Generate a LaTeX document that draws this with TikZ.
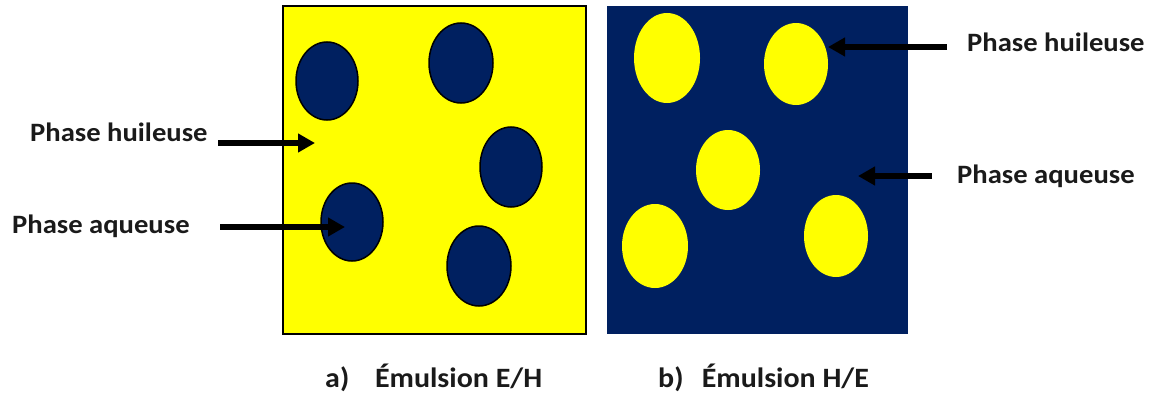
\documentclass[tikz,border=0pt]{standalone}
\usepackage{fontspec}
\setmainfont{Carlito}
\usetikzlibrary{arrows.meta}
\definecolor{navy}{HTML}{002060}
\definecolor{yel}{HTML}{FFFF00}
\definecolor{ink}{HTML}{1A1A1A}
\begin{document}
\begin{tikzpicture}[x=1pt,y=-1pt,
  lbl/.style={font=\fontsize{26.5}{30}\selectfont\bfseries, text=ink, inner sep=0pt, anchor=base west},
  captxt/.style={font=\fontsize{28}{32}\selectfont\bfseries, text=ink, inner sep=0pt, anchor=base west},
  ptr/.style={line width=6pt, draw=black, -{Triangle[length=17pt,width=18pt]}},
  dropA/.style={fill=navy, draw=black, line width=1.5pt},
  dropB/.style={fill=yel}]
\useasboundingbox (0,0) rectangle (1156,396);

% boxes
\path[fill=yel, draw=black, line width=2pt] (283,6) rectangle (586,334);
\path[fill=navy] (607,6) rectangle (908,334);

% left drops (water in oil)
\path[dropA] (327,81) ellipse [x radius=31, y radius=39];
\path[dropA] (461,63) ellipse [x radius=32, y radius=40];
\path[dropA] (511,167) ellipse [x radius=31, y radius=40];
\path[dropA] (352,222) ellipse [x radius=31, y radius=39];
\path[dropA] (479,266) ellipse [x radius=32, y radius=40];

% right drops (oil in water)
\path[dropB] (667,58) ellipse [x radius=33, y radius=45];
\path[dropB] (796,64) ellipse [x radius=32, y radius=41];
\path[dropB] (728,170) ellipse [x radius=32, y radius=40];
\path[dropB] (655,246) ellipse [x radius=33, y radius=42];
\path[dropB] (836,236) ellipse [x radius=32, y radius=41];

% labels
\node[lbl] (lh) at (30,141) {\scalebox{1.08}[1]{Phase huileuse}};
\node[lbl] (la) at (12,233) {\scalebox{1.08}[1]{Phase aqueuse}};
\node[lbl] (rh) at (967,52) {\scalebox{1.08}[1]{Phase huileuse}};
\node[lbl] (ra) at (957,183) {\scalebox{1.08}[1]{Phase aqueuse}};

% arrow ends
\coordinate (lhs) at (218,143); \coordinate (lht) at (315,143);
\coordinate (las) at (220,227); \coordinate (lat) at (345,227);
\coordinate (rhs) at (947,47);  \coordinate (rht) at (828,47);
\coordinate (ras) at (932,176); \coordinate (rat) at (858,176);

\draw[ptr] (lhs) -- (lht);
\draw[ptr] (las) -- (lat);
\draw[ptr] (rhs) -- (rht);
\draw[ptr] (ras) -- (rat);

% captions
\node[captxt] (ca) at (325,387) {\scalebox{1.07}[1]{a)\hspace{24pt}Émulsion E/H}};
\node[captxt] (cb) at (658,387) {\scalebox{1.07}[1]{b)\hspace{17pt}Émulsion H/E}};
\end{tikzpicture}
\end{document}
